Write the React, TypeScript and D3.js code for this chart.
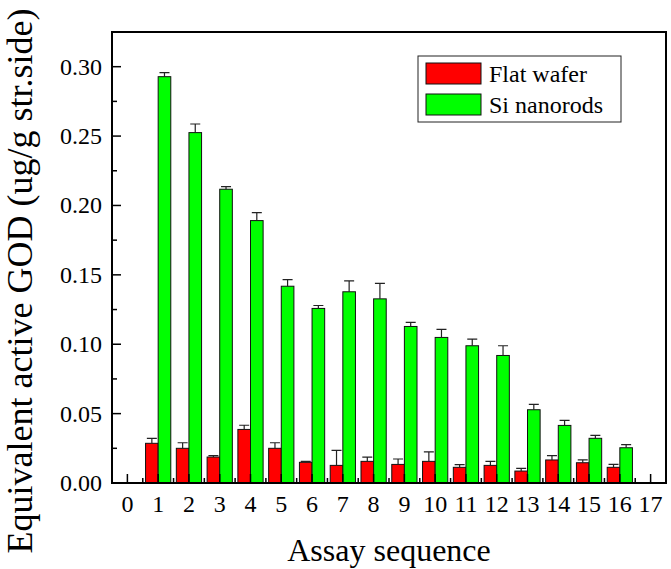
import React from 'react';
import * as d3 from 'd3';

// assay sequence 1..16
const assays = [1, 2, 3, 4, 5, 6, 7, 8, 9, 10, 11, 12, 13, 14, 15, 16];
const flatWafer = [0.0286, 0.025, 0.0187, 0.0386, 0.025, 0.0149, 0.0127, 0.0156, 0.0134, 0.0156, 0.0113, 0.0127, 0.0086, 0.0166, 0.0146, 0.0113];
const flatErr = [0.0036, 0.004, 0.001, 0.003, 0.004, 0.0007, 0.0108, 0.003, 0.0039, 0.0069, 0.0019, 0.0029, 0.002, 0.0031, 0.002, 0.0021];
const nanorods = [0.2928, 0.2525, 0.2117, 0.1891, 0.1418, 0.1258, 0.1378, 0.1327, 0.1128, 0.1049, 0.0989, 0.0919, 0.0528, 0.0415, 0.0322, 0.0254];
const nanoErr = [0.0029, 0.0062, 0.0019, 0.0058, 0.0048, 0.0021, 0.0079, 0.0111, 0.0029, 0.0058, 0.0048, 0.007, 0.0038, 0.0036, 0.0021, 0.0022];
const xTicks = d3.range(0, 18);
const yTicks = [0, 0.05, 0.1, 0.15, 0.2, 0.25, 0.3];
const seriesNames = ['Flat wafer', 'Si nanorods'];
const seriesColors = ['#ff0000', '#00ff00'];

const FONT = "'Liberation Serif', 'Times New Roman', Times";

const left = 112, right = 666, top = 32, bottom = 483;
const x = d3.scaleLinear().domain([-0.5, 17.5]).range([left, right]);
const y = d3.scaleLinear().domain([0, 0.325]).range([bottom, top]);
const bw = x(0.41) - x(0);

const series = [
    { vals: flatWafer, errs: flatErr, off: -bw, color: seriesColors[0] },
    { vals: nanorods, errs: nanoErr, off: 0, color: seriesColors[1] },
];

const Label = (props) => <text {...props} fontFamily={FONT} />;

const App = () => {
    const yMinor = d3.range(0.025, 0.325, 0.05);
    const xMinor = d3.range(0.5, 17, 1);
    const fmt = d3.format('.2f');

    return (
        <svg width={671} height={569} fontFamily={FONT}
            style={{ position: 'absolute', left: 0, top: 0, background: '#fff' }}>
            {series.map((s, si) => (
                <g key={si}>
                    {assays.map((d, i) => (
                        <rect key={d} x={x(d) + s.off} y={y(s.vals[i])} width={bw}
                            height={y(0) - y(s.vals[i])} fill={s.color} stroke="#111" strokeWidth={1} />
                    ))}
                    {/* upper error bars */}
                    {assays.map((d, i) => {
                        const cx = x(d) + s.off + bw / 2;
                        const y0 = y(s.vals[i]);
                        const y1 = y(s.vals[i] + s.errs[i]);
                        return <path key={'e' + d} d={`M${cx},${y0}V${y1}M${cx - 5},${y1}H${cx + 5}`}
                            fill="none" stroke="#222" strokeWidth={1.2} />;
                    })}
                </g>
            ))}

            {/* frame */}
            <rect x={left} y={top} width={right - left} height={bottom - top}
                fill="none" stroke="#000" strokeWidth={2} />

            {/* y axis */}
            {yTicks.map(d => (
                <g key={'y' + d}>
                    <line x1={left} x2={left + 9} y1={y(d)} y2={y(d)} stroke="#000" strokeWidth={1.5} />
                    <Label x={left - 10} y={y(d) + 8} textAnchor="end" fontSize={24}>{fmt(d)}</Label>
                </g>
            ))}
            {yMinor.map(d => (
                <line key={'ym' + d} x1={left} x2={left + 5} y1={y(d)} y2={y(d)} stroke="#000" strokeWidth={1.5} />
            ))}

            {/* x axis */}
            {xTicks.map(d => (
                <g key={'x' + d}>
                    <line x1={x(d)} x2={x(d)} y1={bottom} y2={bottom - 9} stroke="#000" strokeWidth={1.5} />
                    <Label x={x(d)} y={bottom + 29} textAnchor="middle" fontSize={24}>{d}</Label>
                </g>
            ))}
            {xMinor.map(d => (
                <line key={'xm' + d} x1={x(d)} x2={x(d)} y1={bottom} y2={bottom - 5} stroke="#000" strokeWidth={1.5} />
            ))}

            {/* axis titles */}
            <Label x={(left + right) / 2} y={561} textAnchor="middle" fontSize={32}>Assay sequence</Label>
            <Label transform="translate(32,281) rotate(-90)" textAnchor="middle"
                fontSize={36}>Equivalent active GOD (ug/g str.side)</Label>

            {/* legend */}
            <rect x={418} y={56} width={203} height={66} fill="#fff" stroke="#222" strokeWidth={1} />
            {seriesNames.map((name, i) => (
                <g key={name}>
                    <rect x={426} y={63 + i * 31} width={55} height={21} fill={seriesColors[i]} stroke="#111" strokeWidth={1} />
                    <Label x={489} y={82 + i * 31} fontSize={24}>{name}</Label>
                </g>
            ))}
        </svg>
    );
};

export default App;
